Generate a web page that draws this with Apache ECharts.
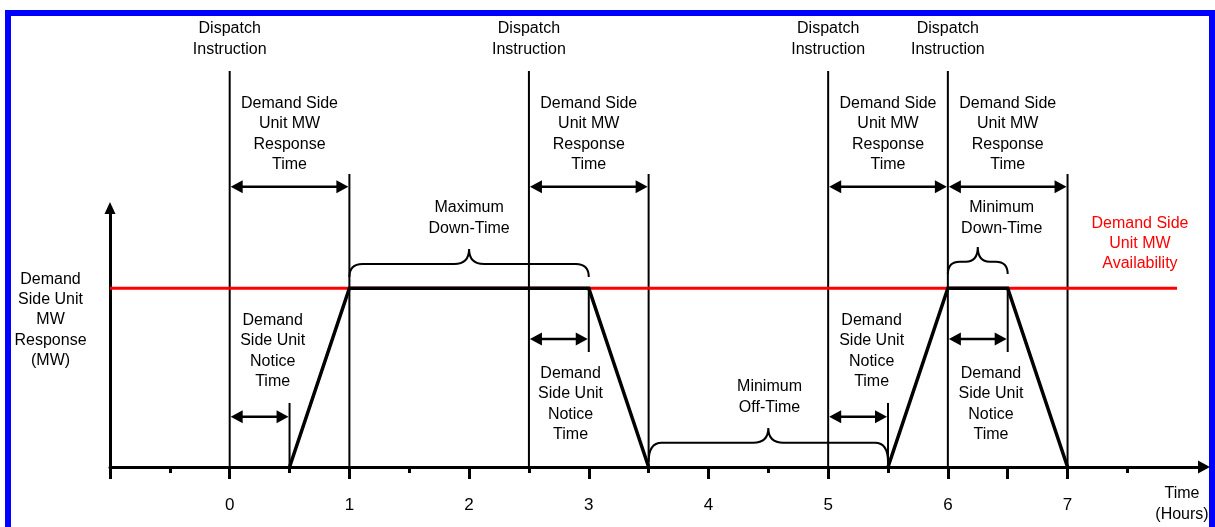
<!DOCTYPE html>
<html>
<head>
<meta charset="utf-8">
<script src="https://cdn.jsdelivr.net/npm/echarts@6/dist/echarts.min.js"></script>
<style>
html,body{margin:0;padding:0;background:#fff;overflow:hidden;width:1215px;height:527px}
#frame{position:absolute;left:5px;top:10px;width:1198px;height:600px;border-left:6px solid #0000ff;border-top:6px solid #0000ff;border-right:6px solid #0000ff;}
#chart{position:absolute;left:0;top:0;width:1215px;height:527px;z-index:2}
</style>
</head>
<body>
<div id="frame"></div>
<div id="chart"></div>
<script>
// ---- axis extents (hours / MW fraction) ----
const xMin = -1, xMax = 8.14;
const yMin = 0, yMax = 1.448;

// ---- tick labels and tick positions ----
const tickLabels = [0, 1, 2, 3, 4, 5, 6, 7];
const longTicks = [-1, 0, 1, 2, 3, 4, 5, 6, 6.5, 7];
const shortTicks = [-0.5, 0.5, 1.5, 2.5, 3.5, 4.5, 5.5, 7.5];

// ---- series values ----
const availability = [[-1, 1], [7.915, 1]];
const response1 = [[0.5, 0], [1, 1], [3, 1], [3.5, 0]];
const response2 = [[5.5, 0], [6, 1], [6.5, 1], [7, 0]];

// vertical reference lines: [x, yBottom, yTop]
const verticals = [[0, 0, 2.214], [1, 0, 1.638], [2.5, 0, 2.214], [3.5, 0, 1.638],
                   [5, 0, 2.214], [6, 0, 2.214], [7, 0, 1.638]];
// notice time markers: [x, yBottom, yTop]
const noticeMarks = [[0.5, 0, 0.358], [3, 0.643, 1], [5.5, 0, 0.358], [6.5, 0.643, 1]];
// double arrows: [xStart, xEnd, y]
const spanArrows = [[0, 1, 1.567], [2.5, 3.5, 1.567], [5, 6, 1.567], [6, 7, 1.567],
                    [0, 0.5, 0.281], [2.5, 3, 0.716], [5, 5.5, 0.281], [6, 6.5, 0.716]];
// braces: [xStart, xEnd, yTip, yBar, yPeak]
const braces = [[1, 3, 1.062, 1.135, 1.219], [3.5, 5.5, 0.028, 0.136, 0.218], [6, 6.5, 1.079, 1.148, 1.23]];

// text notes: [x, y, text, colour]
const notes = [
  [0, 2.392, 'Dispatch\nInstruction', '#000'],
  [2.5, 2.392, 'Dispatch\nInstruction', '#000'],
  [5, 2.392, 'Dispatch\nInstruction', '#000'],
  [6, 2.392, 'Dispatch\nInstruction', '#000'],
  [0.5, 1.861, 'Demand Side\nUnit MW\nResponse\nTime', '#000'],
  [3, 1.861, 'Demand Side\nUnit MW\nResponse\nTime', '#000'],
  [5.5, 1.861, 'Demand Side\nUnit MW\nResponse\nTime', '#000'],
  [6.5, 1.861, 'Demand Side\nUnit MW\nResponse\nTime', '#000'],
  [2, 1.392, 'Maximum\nDown-Time', '#000'],
  [6.45, 1.392, 'Minimum\nDown-Time', '#000'],
  [7.605, 1.248, 'Demand Side\nUnit MW\nAvailability', '#ff0000'],
  [-1.497, 0.822, 'Demand\nSide Unit\nMW\nResponse\n(MW)', '#000'],
  [0.359, 0.648, 'Demand\nSide Unit\nNotice\nTime', '#000'],
  [2.848, 0.351, 'Demand\nSide Unit\nNotice\nTime', '#000'],
  [5.363, 0.648, 'Demand\nSide Unit\nNotice\nTime', '#000'],
  [6.36, 0.351, 'Demand\nSide Unit\nNotice\nTime', '#000'],
  [4.51, 0.391, 'Minimum\nOff-Time', '#000'],
  [7.956, -0.207, 'Time\n(Hours)', '#000']
];

const FONT = '16px "Liberation Sans", Arial, sans-serif';
const chart = echarts.init(document.getElementById('chart'), null, {renderer: 'canvas'});

function vLineItem(params, api) {
  const a = api.coord([api.value(0), api.value(1)]);
  const b = api.coord([api.value(0), api.value(2)]);
  return {type: 'line', shape: {x1: a[0], y1: a[1], x2: b[0], y2: b[1]},
          style: {stroke: '#000', lineWidth: 2}};
}

const option = {
  animation: false,
  backgroundColor: 'transparent',
  grid: {left: 110, right: 11, top: 208, bottom: 60, containLabel: false},
  xAxis: [{
    type: 'value', min: xMin, max: xMax, interval: 1, position: 'bottom',
    axisLine: {show: true, onZero: false, symbol: ['none', 'triangle'], symbolSize: [13, 12],
               lineStyle: {color: '#000', width: 3}},
    axisTick: {show: true, customValues: longTicks, length: 12, lineStyle: {color: '#000', width: 3}},
    axisLabel: {show: true, customValues: tickLabels, margin: 30, color: '#000', fontSize: 17,
                fontFamily: '"Liberation Sans", Arial, sans-serif'},
    splitLine: {show: false}
  }, {
    type: 'value', min: xMin, max: xMax, interval: 1, position: 'bottom',
    axisLine: {show: false, onZero: false},
    axisTick: {show: true, customValues: shortTicks, length: 6, lineStyle: {color: '#000', width: 3}},
    axisLabel: {show: false},
    splitLine: {show: false}
  }],
  yAxis: {
    type: 'value', min: yMin, max: yMax,
    axisLine: {show: true, onZero: false, symbol: ['none', 'triangle'], symbolSize: [11, 12],
               lineStyle: {color: '#000', width: 3}},
    axisTick: {show: false}, axisLabel: {show: false}, splitLine: {show: false}
  },
  series: [
    {type: 'custom', name: 'verticals', z: 1, clip: false, data: verticals, renderItem: vLineItem},
    {type: 'custom', name: 'notice', z: 1, clip: false, data: noticeMarks, renderItem: vLineItem},
    {type: 'line', name: 'availability', z: 2, data: availability, showSymbol: false, symbol: 'none',
     lineStyle: {color: '#ff0000', width: 3}},
    {type: 'line', name: 'response1', z: 3, data: response1, showSymbol: false, symbol: 'none',
     lineStyle: {color: '#000', width: 3.5, join: 'miter'}},
    {type: 'line', name: 'response2', z: 3, data: response2, showSymbol: false, symbol: 'none',
     lineStyle: {color: '#000', width: 3.5, join: 'miter'}},
    {type: 'custom', name: 'arrows', z: 3, clip: false, data: spanArrows,
     renderItem: function (params, api) {
       const a = api.coord([api.value(0), api.value(2)]);
       const b = api.coord([api.value(1), api.value(2)]);
       const L = 12, H = 6.5;
       const ax = a[0] + 1, bx = b[0] - 1, y = a[1];
       return {type: 'group', children: [
         {type: 'line', shape: {x1: ax + L - 2, y1: y, x2: bx - L + 2, y2: y},
          style: {stroke: '#000', lineWidth: 2.5}},
         {type: 'polygon', shape: {points: [[ax, y], [ax + L, y - H], [ax + L, y + H]]}, style: {fill: '#000'}},
         {type: 'polygon', shape: {points: [[bx, y], [bx - L, y - H], [bx - L, y + H]]}, style: {fill: '#000'}}
       ]};
     }},
    {type: 'custom', name: 'braces', z: 3, clip: false, data: braces,
     renderItem: function (params, api) {
       const x1 = api.coord([api.value(0), api.value(2)]);
       const x2 = api.coord([api.value(1), api.value(2)]);
       const bar = api.coord([api.value(0), api.value(3)])[1];
       const peak = api.coord([api.value(0), api.value(4)])[1];
       const L = x1[0], R = x2[0], T = x1[1];
       const M = (L + R) / 2;
       const r = Math.min(13, (R - L) / 5);
       const r2 = Math.min(15, (R - L) / 5);
       const d = 'M' + L + ' ' + T +
         ' Q' + L + ' ' + bar + ' ' + (L + r) + ' ' + bar +
         ' L' + (M - r2) + ' ' + bar +
         ' Q' + M + ' ' + bar + ' ' + M + ' ' + peak +
         ' Q' + M + ' ' + bar + ' ' + (M + r2) + ' ' + bar +
         ' L' + (R - r) + ' ' + bar +
         ' Q' + R + ' ' + bar + ' ' + R + ' ' + T;
       return {type: 'path', shape: {pathData: d},
               style: {stroke: '#000', lineWidth: 2, fill: null}};
     }},
    {type: 'custom', name: 'notes', z: 4, clip: false,
     data: notes.map(function (n) { return [n[0], n[1]]; }),
     renderItem: function (params, api) {
       const n = notes[params.dataIndex];
       const p = api.coord([api.value(0), api.value(1)]);
       return {type: 'text', x: p[0], y: p[1],
               style: {text: n[2], fill: n[3], font: FONT, align: 'center', verticalAlign: 'middle',
                       textAlign: 'center', textVerticalAlign: 'middle', lineHeight: 20.3}};
     }}
  ]
};
chart.setOption(option);
</script>
</body>
</html>
